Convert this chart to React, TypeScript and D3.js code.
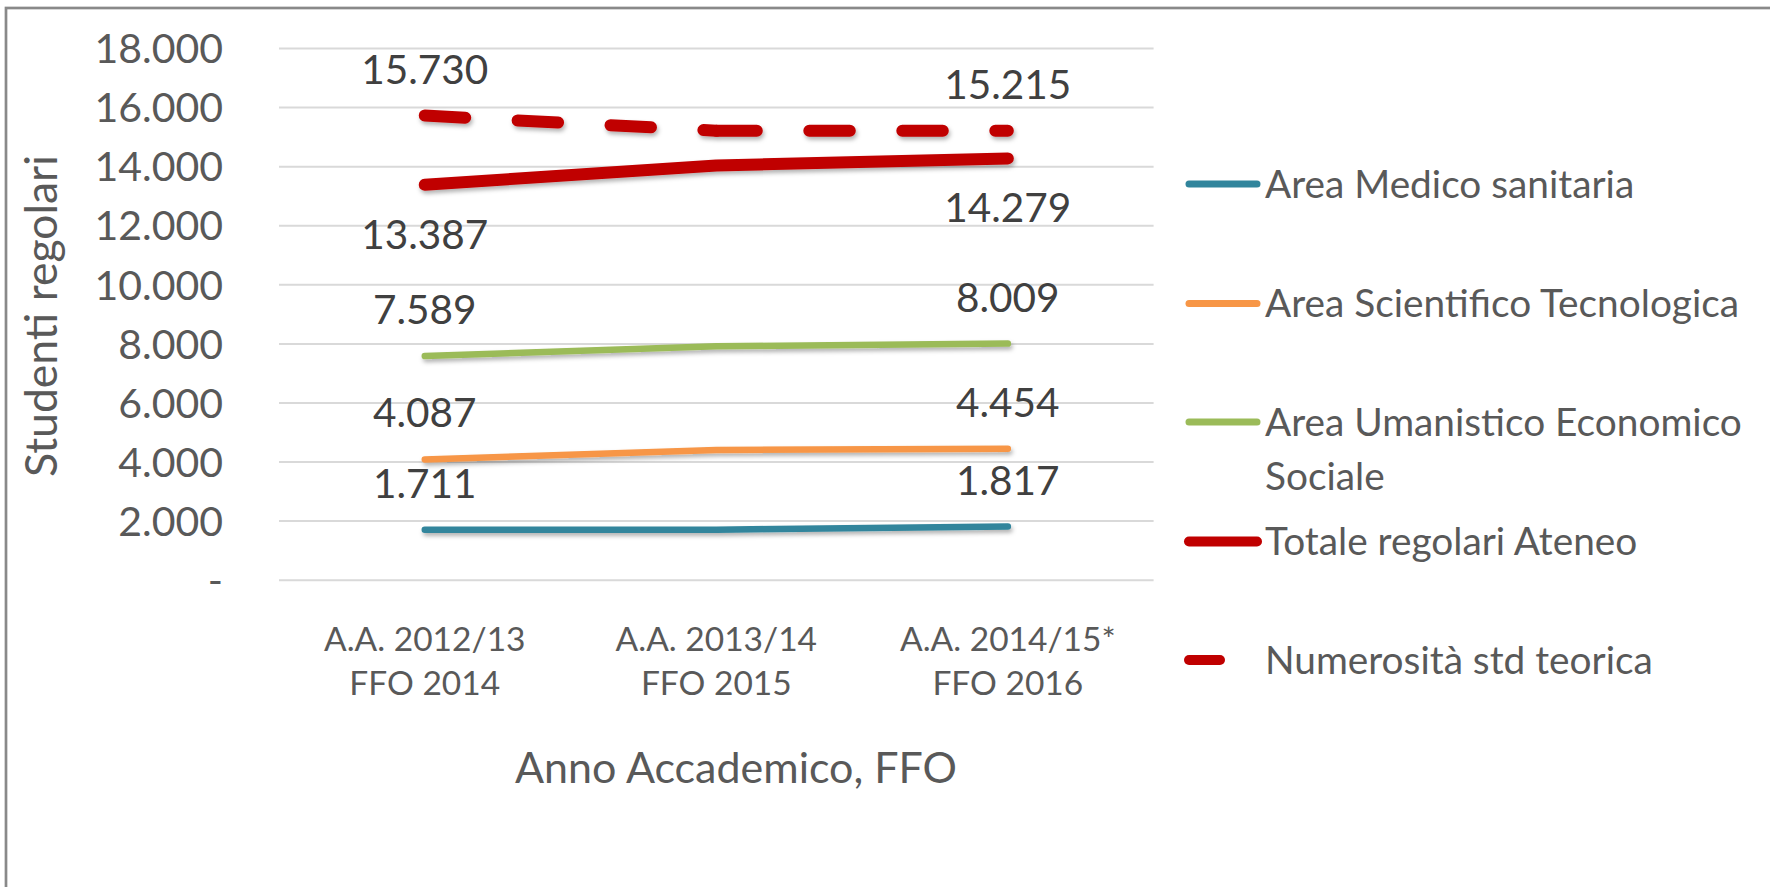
import * as d3 from "d3";
import React from "react";

const categories = [
  ["A.A. 2012/13", "FFO 2014"],
  ["A.A. 2013/14", "FFO 2015"],
  ["A.A. 2014/15*", "FFO 2016"],
];

const medicoSanitaria = [1711, 1710, 1817];
const scientificoTecnologica = [4087, 4410, 4454];
const umanisticoEconomico = [7589, 7920, 8009];
const totaleRegolari = [13387, 14040, 14279];
const numerositaTeorica = [15730, 15215, 15215];

const seriesNames = [
  ["Area Medico sanitaria"],
  ["Area Scientifico Tecnologica"],
  ["Area Umanistico Economico", "Sociale"],
  ["Totale regolari Ateneo"],
  ["Numerosità std teorica"],
];

const colors = ["#31859c", "#f79646", "#9bbb59", "#c00000", "#c00000"];

const width = 1770;
const height = 887;
const font = "Lato, 'Open Sans', sans-serif";
const grey = "#595959";

const itFormat = d3.formatLocale({
  decimal: ",",
  thousands: ".",
  grouping: [3],
  currency: ["€", ""],
}).format(",d");
const fmt = (v: number) => (v === 0 ? "-" : itFormat(v));

export default function App() {
  const series = [
    { values: medicoSanitaria, color: colors[0], w: 6.5, dashed: false, below: false },
    { values: scientificoTecnologica, color: colors[1], w: 6.5, dashed: false, below: false },
    { values: umanisticoEconomico, color: colors[2], w: 6.5, dashed: false, below: false },
    { values: totaleRegolari, color: colors[3], w: 12, dashed: false, below: true },
    { values: numerositaTeorica, color: colors[4], w: 12, dashed: true, below: false },
  ];

  const idx = categories.map((_, i) => i);
  const x = d3.scalePoint<number>().domain(idx).range([279, 1153.6]).padding(0.5);
  const y = d3.scaleLinear().domain([0, 18000]).range([580.2, 48.5]);
  const ticks = y.ticks(9);

  const line = d3
    .line<number>()
    .x((_, i) => x(i) as number)
    .y((d) => y(d));

  // excel restarts the dash pattern on every segment
  const segLine = d3
    .line<[number, number]>()
    .x((d) => x(d[0]) as number)
    .y((d) => y(d[1]));

  const legendRows = [184, 303.5, 422, 541.5, 660];

  return (
    <svg
      width={width}
      height={height}
      style={{ position: "absolute", left: 0, top: 0, background: "#fff" }}
      fontFamily={font}
    >
      <defs>
        <filter id="shadow" x="-10%" y="-50%" width="120%" height="200%">
          <feDropShadow dx="1.5" dy="3" stdDeviation="2" floodColor="#000" floodOpacity="0.3" />
        </filter>
      </defs>
      <rect x={6} y={8} width={width + 20} height={height + 20} fill="#fff" stroke="#898989" strokeWidth={2.7} />

      {/* gridlines + y ticks */}
      {ticks.map((t) => (
        <g key={t}>
          <line x1={279} x2={1153.6} y1={y(t)} y2={y(t)} stroke="#d9d9d9" strokeWidth={2} />
          <text x={223} y={y(t)} dy="0.36em" textAnchor="end" fontSize={41} fill={grey}>
            {fmt(t)}
          </text>
        </g>
      ))}

      {/* x tick labels */}
      {categories.map((c, i) => (
        <text key={i} textAnchor="middle" fontSize={33.5} fill={grey}>
          <tspan x={x(i)} y={650.7}>{c[0]}</tspan>
          <tspan x={x(i)} y={695}>{c[1]}</tspan>
        </text>
      ))}

      {/* axis titles */}
      <text x={736} y={783.3} textAnchor="middle" fontSize={43} fill={grey}>
        Anno Accademico, FFO
      </text>
      <text
        transform={`translate(56.5,316) rotate(-90)`}
        textAnchor="middle"
        fontSize={44.5}
        fill={grey}
      >
        Studenti regolari
      </text>

      {/* lines */}
      <g filter="url(#shadow)">
        {series.map((s, si) =>
          s.dashed ? (
            <g key={si}>
              {d3.pairs(s.values.map((v, i) => [i, v] as [number, number])).map((p, k) => (
                <path
                  key={k}
                  d={segLine(p) as string}
                  fill="none"
                  stroke={s.color}
                  strokeWidth={s.w}
                  strokeLinecap="round"
                  strokeDasharray="40.5 52.5"
                />
              ))}
            </g>
          ) : (
            <path
              key={si}
              d={line(s.values) as string}
              fill="none"
              stroke={s.color}
              strokeWidth={s.w}
              strokeLinecap="round"
              strokeLinejoin="round"
            />
          )
        )}
      </g>

      {/* data labels, first and last point only */}
      {series.map((s, si) =>
        [0, s.values.length - 1].map((i) => (
          <text
            key={`${si}-${i}`}
            x={x(i)}
            y={y(s.values[i]) + (s.below ? 64 : -32)}
            textAnchor="middle"
            fontSize={40.5}
            fill="#404040"
          >
            {fmt(s.values[i])}
          </text>
        ))
      )}

      {/* legend */}
      {series.map((s, si) => (
        <g key={si} transform={`translate(0,${legendRows[si]})`}>
          <line
            x1={1189}
            x2={s.dashed ? 1220 : 1257}
            y1={0}
            y2={0}
            stroke={s.color}
            strokeWidth={s.w > 10 ? 10 : 7}
            strokeLinecap="round"
          />
          <text x={1265} y={0} fontSize={38.8} fill={grey}>
            {seriesNames[si].map((n, k) => (
              <tspan key={k} x={1265} dy={k === 0 ? "0.35em" : 54}>
                {n}
              </tspan>
            ))}
          </text>
        </g>
      ))}
    </svg>
  );
}
